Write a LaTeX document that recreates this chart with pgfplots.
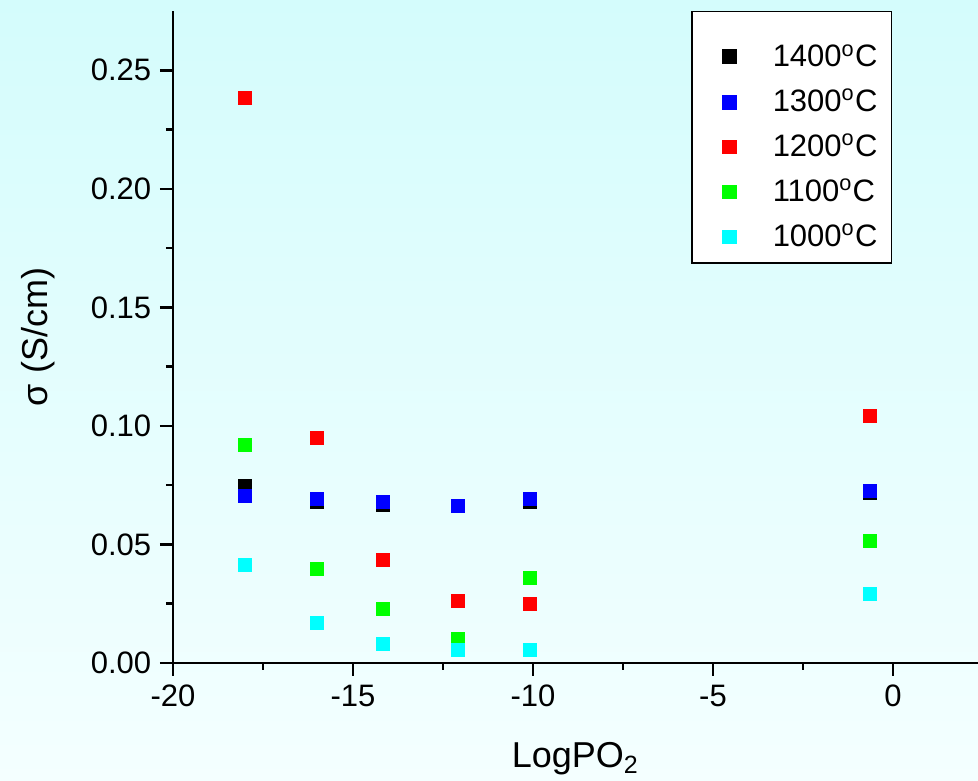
\documentclass[border=0pt]{standalone}
\usepackage{fontspec}
\setmainfont{Liberation Sans}
\usepackage{pgfplots}
\pgfplotsset{compat=1.18}
\definecolor{bgtop}{RGB}{212,252,252}
\definecolor{bgbot}{RGB}{244,255,255}
\definecolor{mgreen}{RGB}{0,255,0}
\definecolor{mcyan}{RGB}{0,255,255}
\definecolor{mblue}{RGB}{0,0,255}
\definecolor{mred}{RGB}{255,0,0}
\pgfplotsset{firstimg/.style={legend image code/.code={\path (0pt,0pt); \draw[##1] plot coordinates {(11.2pt,-3.6pt)}; \path (26.2pt,0pt);}}}
\begin{document}
\begin{tikzpicture}
\useasboundingbox (-69.2pt,-47.2pt) rectangle (322pt,265.2pt);
\shade[top color=bgtop, bottom color=bgbot] (-69.2pt,-47.2pt) rectangle (322pt,265.2pt);
\begin{axis}[
  at={(0pt,0pt)}, anchor=south west,
  scale only axis, width=322pt, height=260.8pt,
  xmin=-20, xmax=2.36, ymin=0, ymax=0.275,
  axis x line*=bottom, axis y line*=left,
  axis line style={-, line width=1.1pt},
  every tick/.style={black, line width=1pt},
  tick align=outside,
  major tick length=5.2pt, minor tick length=2.8pt,
  xtick={-20,-15,-10,-5,0}, minor x tick num=1,
  ytick={0,0.05,0.1,0.15,0.2,0.25}, minor y tick num=1,
  scaled y ticks=false,
  /pgf/number format/assume math mode=true,
  yticklabel style={/pgf/number format/.cd, fixed, fixed zerofill, precision=2},
  tick label style={font=\fontsize{12.4}{14}\selectfont},
  xlabel={LogPO\textsubscript{2}},
  ylabel={σ (S/cm)},
  label style={font=\fontsize{14.4}{16}\selectfont},
  xlabel style={at={(axis description cs:0.5,-0.161)}, anchor=base},
  ylabel style={at={(axis description cs:-0.1553,0.5)}, anchor=base, rotate=0},
  legend style={at={(axis description cs:0.6435,1)}, anchor=north west,
    draw=black, line width=0.6pt, fill=white,
    font=\fontsize{12.4}{14}\selectfont,
    inner xsep=3.6pt, inner ysep=3.2pt, row sep=3.4pt},
  legend cell align=left,
  legend image code/.code={\path (0pt,0pt); \draw[#1] plot coordinates {(11.2pt,0pt)}; \path (26.2pt,0pt);},
  every axis plot/.append style={only marks, mark=square*, mark size=2.6pt},
]
\addplot[black, mark options={fill=black, draw=black}, firstimg] coordinates {
(-18,0.0745) (-16,0.0678) (-14.16,0.0666) (-12.07,0.0664) (-10.07,0.0678) (-0.65,0.0716)};
\addlegendentry{\rule{0pt}{16.9pt}1400\textsuperscript{o}C}
\addplot[mblue, mark options={fill=mblue, draw=mblue}] coordinates {
(-18,0.0703) (-16,0.0690) (-14.16,0.0677) (-12.07,0.0664) (-10.07,0.0690) (-0.65,0.0724)};
\addlegendentry{1300\textsuperscript{o}C}
\addplot[mred, mark options={fill=mred, draw=mred}] coordinates {
(-18,0.2384) (-16,0.0947) (-14.16,0.0433) (-12.07,0.0260) (-10.07,0.0250) (-0.65,0.1043)};
\addlegendentry{1200\textsuperscript{o}C}
\addplot[mgreen, mark options={fill=mgreen, draw=mgreen}] coordinates {
(-18,0.0918) (-16,0.0395) (-14.16,0.0229) (-12.07,0.0102) (-10.07,0.0358) (-0.65,0.0514)};
\addlegendentry{1100\textsuperscript{o}C}
\addplot[mcyan, mark options={fill=mcyan, draw=mcyan}] coordinates {
(-18,0.0413) (-16,0.0167) (-14.16,0.0081) (-12.07,0.0053) (-10.07,0.0053) (-0.65,0.0289)};
\addlegendentry{1000\textsuperscript{o}C}
\end{axis}
\end{tikzpicture}
\end{document}
